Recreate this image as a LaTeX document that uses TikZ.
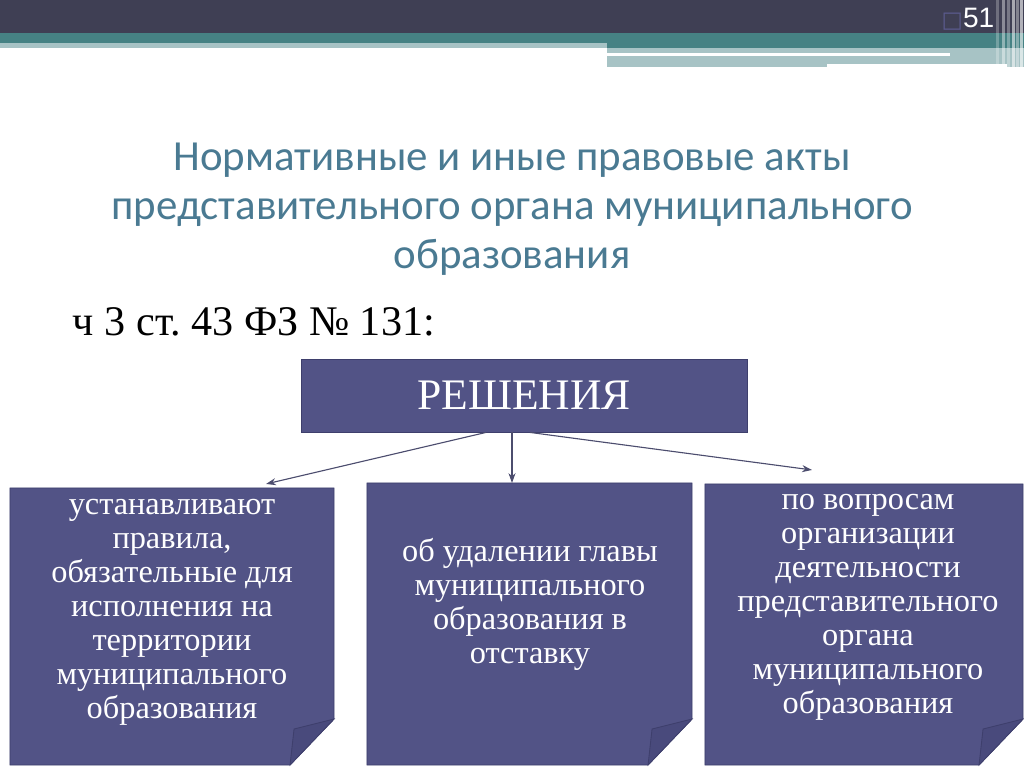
\documentclass[tikz,border=0pt]{standalone}
\usepackage{fontspec}
\setmainfont{Liberation Serif}
\newfontfamily\titlefont{Carlito}
\newfontfamily\numfont{Liberation Sans}
\newfontfamily\symfont{DejaVu Sans}
\usetikzlibrary{arrows.meta,calc}

\definecolor{hdrdark}{HTML}{3F3F54}
\definecolor{hdrteal}{HTML}{468284}
\definecolor{hdrlight}{HTML}{A7C3C5}
\definecolor{sqcol}{HTML}{5A5A8C}
\definecolor{titlecol}{HTML}{4A7A92}
\definecolor{boxfill}{HTML}{525386}
\definecolor{boxedge}{HTML}{3E3F6C}
\definecolor{flapfill}{HTML}{494A7C}
\definecolor{arrcol}{HTML}{4C4D6E}

\begin{document}
\frenchspacing
\begin{tikzpicture}[x=0.025cm,y=-0.025cm,
	sheet/.style={inner sep=0pt,outer sep=0pt},
	boxtxt/.style={text=white,align=center,font=\fontsize{23}{24.2}\selectfont},
	arr/.style={draw=arrcol,line width=0.8pt,-{Stealth[length=7pt,width=5pt]}}]
	\useasboundingbox (0,0) rectangle (1024,767);
	
	% header bands
	\fill[hdrdark] (0,0) rectangle (1024,33);
	\fill[hdrteal] (0,33) rectangle (1024,48);
	\fill[hdrlight] (0,43) rectangle (607,48);
	\fill[hdrlight] (607,48) rectangle (1024,67);
	\fill[white] (607,53.5) rectangle (950,56.5);
	\fill[white] (827,64) rectangle (1007,67);
	\foreach \x/\o in {996/.25,1002/.4,1007/.3,1012/.55,1016/.35,1020/.6}
		\fill[white,opacity=\o] (\x,0) rectangle ++(2.5,67);
	\node[text=white,font=\numfont\fontsize{20}{24}\selectfont] (num) at (968,19) {{\symfont\fontsize{16}{20}\selectfont\color{sqcol}□}51};
	
	% title
	\node[text=titlecol,align=center,font=\titlefont\fontsize{30.5}{35}\selectfont] (title) at (512,209)
		{Нормативные и иные правовые акты\\представительного органа муниципального\\образования};
	\node[anchor=west,font=\fontsize{30}{34}\selectfont] (law) at (68,322) {ч 3 ст. 43 ФЗ № 131:};
	
	% top box
	\node[draw=boxedge,fill=boxfill,line width=0.6pt,minimum width=11.15cm,minimum height=1.825cm,
		text=white,font=\fontsize{31}{34}\selectfont] (resh) at (524,395.5) {РЕШЕНИЯ};
	
	% lower sheets
	\node[sheet,minimum width=8.1cm,minimum height=6.925cm] (b1) at (172,626.5) {};
	\node[sheet,minimum width=8.125cm,minimum height=7.05cm] (b2) at (529.5,624) {};
	\node[sheet,minimum width=7.95cm,minimum height=7.025cm] (b3) at (864,624.5) {};
	\foreach \b in {b1,b2,b3}{
		\filldraw[draw=boxedge,fill=boxfill,line width=0.6pt] (\b.north west) -- (\b.north east)
			-- ($(\b.south east)+(0,-46)$) -- ($(\b.south east)+(-44,0)$) -- (\b.south west) -- cycle;
		\filldraw[draw=boxedge,fill=flapfill,line width=0.6pt] ($(\b.south east)+(0,-46)$)
			-- ($(\b.south east)+(-40,-36)$) -- ($(\b.south east)+(-44,0)$) -- cycle;
	}
	
	\node[boxtxt] (t1) at (172,612) {устанавливают\\правила,\\обязательные для\\исполнения на\\территории\\муниципального\\образования};
	\node[boxtxt] (t2) at (530,604) {об удалении главы\\муниципального\\образования в\\отставку};
	\node[boxtxt] (t3) at (868,607) {по вопросам\\организации\\деятельности\\представительного\\органа\\муниципального\\образования};
	
	% arrows
	\coordinate (mid) at ($(resh.south)+(-12,0)$);
	\draw[arr] ($(resh.south)+(-38,0)$) -- ($(b1.north east)+(-68,-4)$);
	\draw[arr] (mid) -- (mid |- b2.north);
	\draw[arr] ($(resh.south)+(6,0)$) -- ($(b3.north west)+(107,-14)$);
\end{tikzpicture}
\end{document}
